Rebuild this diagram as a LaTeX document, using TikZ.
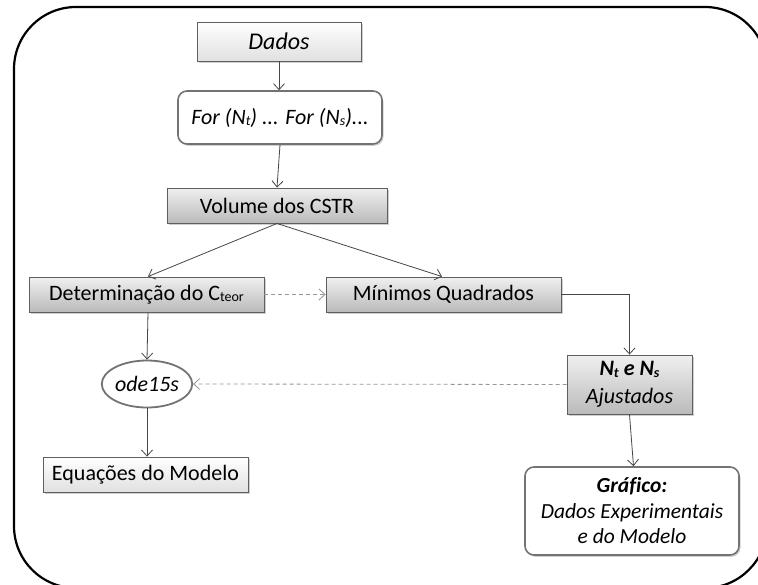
\documentclass[tikz,border=0pt]{standalone}
\usepackage{fontspec}
\setmainfont[Ligatures=NoCommon]{Carlito}
\usetikzlibrary{arrows.meta,shapes.geometric,shadows}
\newcommand{\sbs}[1]{\raisebox{-1.3pt}{\fontsize{14}{14}\selectfont #1}}
\definecolor{boxline}{RGB}{95,95,95}
\definecolor{arrline}{RGB}{70,70,70}
\definecolor{dashline}{RGB}{150,150,150}
\tikzset{
  basebox/.style={draw=boxline, line width=0.9pt, anchor=center, inner sep=0pt,
    font=\fontsize{22}{27}\selectfont, text=black,
    drop shadow={shadow xshift=1.5pt,shadow yshift=-1.8pt,fill=black!30,opacity=0.6}},
  graybox/.style={basebox, top color=black!6, bottom color=black!27},
  lightbox/.style={basebox, top color=white, bottom color=black!12},
  roundbox/.style={basebox, fill=white, draw=black!55, line width=1.6pt, rounded corners=9pt},
  arr/.style={draw=arrline, line width=0.8pt, -{Straight Barb[length=6pt,width=11pt]}},
  darr/.style={draw=dashline, line width=0.8pt, dash pattern=on 4pt off 3pt, -{Straight Barb[length=6pt,width=11pt]}},
}
\begin{document}
\begin{tikzpicture}[x=1pt,y=-1pt]
\useasboundingbox (0,0) rectangle (758,584);
\clip (0,0) rectangle (758,584);
\fill[white] (0,0) rectangle (758,584);
\draw[black, line width=2.2pt, rounded corners=62pt] (14,7) rectangle (767,588);

\node[lightbox, minimum width=164pt, minimum height=39pt, font=\fontsize{24}{28}\selectfont] (dados) at (279,41.5) {\itshape Dados};
\node[roundbox, minimum width=204pt, minimum height=53pt] (for) at (280,117.5) {\itshape For (N\sbs{t}) ... For (N\sbs{s})...};
\node[graybox, minimum width=220pt, minimum height=35pt] (vol) at (277,205.5) {Volume dos CSTR};
\node[graybox, minimum width=235pt, minimum height=35pt] (det) at (146.5,294.5) {Determinação do C\sbs{teor}};
\node[graybox, minimum width=235pt, minimum height=35pt] (min) at (443.5,294.5) {Mínimos Quadrados};
\node[graybox, minimum width=125pt, minimum height=59pt, align=center, font=\fontsize{22}{28}\selectfont] (aj) at (629.5,384.5) {\bfseries\itshape N\sbs{t} e N\sbs{s}\\\itshape Ajustados};
\node[ellipse, draw=black!55, line width=1.8pt, fill=white, minimum width=88pt, minimum height=47pt, inner sep=0pt, font=\fontsize{22}{27}\selectfont] (ode) at (147,384) {\itshape ode15s};
\node[lightbox, minimum width=205pt, minimum height=35pt] (eq) at (145.5,474.5) {Equações do Modelo};
\node[roundbox, minimum width=214pt, minimum height=88pt, align=center, font=\fontsize{21.5}{25.5}\selectfont] (graf) at (632,511) {\bfseries\itshape Gráfico:\\\itshape Dados Experimentais\\\itshape e do Modelo};

\draw[arr] (dados.south) -- (dados.south |- for.north);
\draw[arr] (for.south) -- (vol.north);
\draw[arr] (vol.south) -- ([xshift=1.5pt]det.north);
\draw[arr] (vol.south) -- ([xshift=-1.5pt]min.north);
\draw[darr] (det.east) -- (min.west);
\draw[arr] (min.east) -| (aj.north);
\draw[darr] (aj.west) -- (ode.east);
\draw[arr] ([xshift=1.5pt]det.south) -- (ode.north);
\draw[arr] (ode.south) -- (ode.south |- eq.north);
\draw[arr] (aj.south) -- ([xshift=1.5pt]graf.north);
\end{tikzpicture}
\end{document}
